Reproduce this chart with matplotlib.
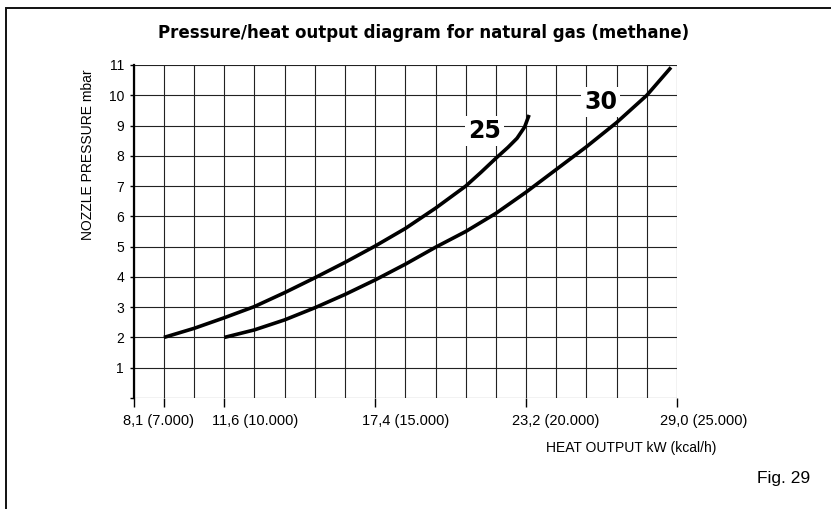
import matplotlib.pyplot as plt
from matplotlib.patches import Rectangle
from matplotlib.transforms import ScaledTranslation

# grid columns on the heat-output axis (one column per 1.000 kcal/h)
tick_pos = [1, 3, 8, 13, 18]
tick_labels = ["8,1 (7.000)", "11,6 (10.000)", "17,4 (15.000)",
               "23,2 (20.000)", "29,0 (25.000)"]

# nozzle pressure curves (mbar) read against the grid columns
x_25 = [1, 2, 3, 4, 5, 6, 7, 8, 9, 10, 11, 11.5, 12, 12.4, 12.7, 12.95, 13.1]
p_25 = [2.0, 2.3, 2.65, 3.02, 3.48, 3.97, 4.48, 5.02, 5.6, 6.27, 7.0, 7.45, 7.92, 8.28, 8.58, 8.95, 9.35]

x_30 = [3, 4, 5, 6, 7, 8, 9, 10, 11, 12, 13, 14, 15, 16, 17, 17.8]
p_30 = [2.0, 2.25, 2.58, 2.98, 3.42, 3.9, 4.42, 4.98, 5.5, 6.1, 6.8, 7.55, 8.3, 9.1, 10.0, 10.92]

plt.rcParams['font.family'] = ['Liberation Sans', 'DejaVu Sans']

fig = plt.figure(figsize=(8.31, 5.09), dpi=100)
ax = fig.add_axes([0.1609, 0.2181, 0.6538, 0.6542])

# outer frame of the figure (only the top and left sides fall inside)
fig.patches.append(Rectangle((6 / 831, -0.1), 1.2, 1 - 8 / 509 + 0.1,
                             transform=fig.transFigure, fill=False,
                             lw=1.4, ec='#111111'))

for gx in range(0, 19):
    ax.axvline(gx, color='#222222', lw=0.8, zorder=1)
for gy in range(0, 12):
    ax.axhline(gy, color='#222222', lw=0.8, zorder=1)

ax.plot(x_25, p_25, color='black', lw=2.6, solid_capstyle='butt',
        solid_joinstyle='round', zorder=3)
ax.plot(x_30, p_30, color='black', lw=2.6, solid_capstyle='butt',
        solid_joinstyle='round', zorder=3)

box = dict(facecolor='white', edgecolor='none', pad=2.0)
ax.text(11.63, 8.82, "25", fontsize=17, fontweight='bold', family='DejaVu Sans',
        ha='center', va='center', bbox=box, zorder=4)
ax.text(15.47, 9.78, "30", fontsize=17, fontweight='bold', family='DejaVu Sans',
        ha='center', va='center', bbox=box, zorder=4)

ax.set_xlim(0, 18)
ax.set_ylim(0, 11)
for s in ['top', 'right', 'bottom']:
    ax.spines[s].set_visible(False)
ax.spines['left'].set_linewidth(1.6)
ax.spines['left'].set_zorder(5)

ax.set_xticks([0] + tick_pos)
ax.set_xticklabels([""] + tick_labels)
ax.set_yticks(range(0, 12))
ax.set_yticklabels([""] + [str(v) for v in range(1, 12)])
ax.tick_params(axis='x', length=6.5, width=1.0, pad=5, labelsize=10.5)
ax.tick_params(axis='y', length=3, width=1.0, pad=4, labelsize=10)

# tick labels start a little left of their tick, the first one further out
shift_px = [0, -41, -12, -13, -14, -17]
for lab, dx in zip(ax.get_xticklabels(), shift_px):
    lab.set_horizontalalignment('left')
    lab.set_transform(lab.get_transform() +
                      ScaledTranslation(dx / 100, 0, fig.dpi_scale_trans))

fig.text(424 / 831, 1 - 33 / 509, "Pressure/heat output diagram for natural gas (methane)",
         fontsize=12, fontweight='bold', family='DejaVu Sans',
         ha='center', va='center')
fig.text(88.5 / 831, 1 - 155 / 509, "NOZZLE PRESSURE mbar", fontsize=10,
         rotation=90, ha='center', va='center')
fig.text(631 / 831, 1 - 448 / 509, "HEAT OUTPUT kW (kcal/h)", fontsize=10,
         ha='center', va='center')
fig.text(784 / 831, 1 - 479 / 509, "Fig. 29", fontsize=12.5,
         ha='center', va='center')

fig.savefig('out.png', dpi=100)
